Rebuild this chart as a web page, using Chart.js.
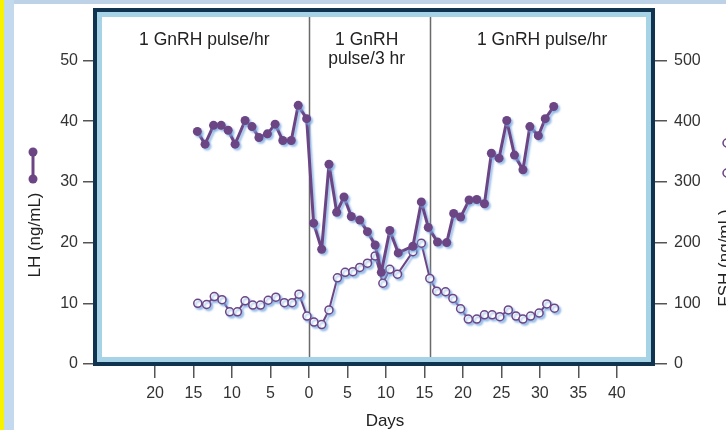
<!DOCTYPE html>
<html lang="en">
  <head>
    <meta charset="UTF-8" />
    <title>LH and FSH with GnRH pulses</title>
    <script src="https://cdn.jsdelivr.net/npm/chart.js"></script>
    <style>
      body { margin: 0; background: #fff; }
      #wrap { position: relative; width: 726px; height: 430px; overflow: hidden; }
      .band { position: absolute; }
      #chart { position: absolute; left: 0; top: 0; }
    </style>
  </head>
  <body>
    <div id="wrap">
      <div class="band" style="left:0;top:0;width:726px;height:4px;background:#bdd2e6"></div>
      <div class="band" style="left:4px;top:0;width:10px;height:430px;background:#c3d9ee"></div>
      <div class="band" style="left:0;top:0;width:4px;height:430px;background:#f6f200"></div>
      <canvas id="chart" width="726" height="430"></canvas>
    </div>
    <script>
      // days relative to the change of pulse frequency
      const lhDays = [-14.5, -13.5, -12.4, -11.4, -10.5, -9.6, -8.3, -7.4, -6.5, -5.4,
        -4.4, -3.4, -2.3, -1.4, -0.3, 0.6, 1.65, 2.6, 3.6, 4.55,
        5.5, 6.6, 7.6, 8.6, 9.4, 10.5, 11.6, 13.5, 14.6, 15.5,
        16.7, 17.9, 18.8, 19.7, 20.8, 21.8, 22.8, 23.7, 24.7, 25.7,
        26.7, 27.8, 28.7, 29.8, 30.7, 31.8];
      const lhValues = [38.3, 36.2, 39.3, 39.3, 38.5, 36.2, 40.1, 39.1, 37.3, 37.9,
        39.5, 36.8, 36.8, 42.6, 40.4, 23.2, 18.9, 32.9, 25.0, 27.5,
        24.3, 23.7, 21.8, 19.6, 15.1, 22.0, 18.3, 19.4, 26.7, 22.5,
        20.1, 20.0, 24.8, 24.2, 27.0, 27.1, 26.4, 34.7, 33.9, 40.1,
        34.4, 32.0, 39.1, 37.6, 40.4, 42.4];

      const fshDays = [-14.45, -13.3, -12.3, -11.3, -10.3, -9.3, -8.3, -7.3, -6.3, -5.3,
        -4.3, -3.2, -2.2, -1.3, -0.26, 0.65, 1.65, 2.6, 3.7, 4.7,
        5.7, 6.6, 7.6, 8.6, 9.6, 10.5, 11.5, 13.5, 14.6, 15.7,
        16.6, 17.75, 18.7, 19.7, 20.7, 21.8, 22.8, 23.8, 24.8, 25.9,
        26.9, 27.8, 28.8, 29.9, 30.9, 31.9];
      const fshValues = [100, 98, 111, 106, 86, 86, 104, 97, 97, 105,
        110, 101, 101, 115, 79, 69, 65, 89, 142, 151,
        152, 159, 166, 178, 133, 156, 148, 185, 199, 141,
        120, 119, 108, 91, 74, 74, 81, 81, 78, 89,
        79, 74, 79, 84, 99, 92];

      const dayTicks = [-20, -15, -10, -5, 0, 5, 10, 15, 20, 25, 30, 35, 40];
      const lhTicks = [0, 10, 20, 30, 40, 50];
      const fshTicks = [0, 100, 200, 300, 400, 500];

      const phaseChanges = [0, 15.7];
      const phaseLabels = [
        { day: -13.6, lines: ["1 GnRH pulse/hr"] },
        { day: 7.5, lines: ["1 GnRH", "pulse/3 hr"] },
        { day: 30.3, lines: ["1 GnRH pulse/hr"] },
      ];

      const purple = "#6c4585";
      const font = "'Liberation Sans', Arial, sans-serif";

      function toPoints(xs, ys) {
        return xs.map((x, i) => ({ x: x, y: ys[i] }));
      }

      function fixSize(prop, size) {
        return function (scale) {
          scale[prop] = size;
          scale.paddingTop = 0;
          scale.paddingBottom = 0;
          scale.paddingLeft = 0;
          scale.paddingRight = 0;
        };
      }

      const shadow = {
        id: "shadow",
        beforeDatasetDraw(chart) {
          const c = chart.ctx;
          c.save();
          c.shadowColor = "rgba(120, 170, 225, 0.7)";
          c.shadowOffsetX = 2;
          c.shadowOffsetY = 2;
          c.shadowBlur = 2;
        },
        afterDatasetDraw(chart) {
          chart.ctx.restore();
        },
      };

      const decor = {
        id: "decor",
        beforeDatasetsDraw(chart) {
          const c = chart.ctx;
          const a = chart.chartArea;
          const xs = chart.scales.x;
          c.save();
          // inner light-blue rim
          c.strokeStyle = "#a6d3e6";
          c.lineWidth = 5;
          c.strokeRect(a.left + 4.5, a.top + 4.5, a.right - a.left - 9, a.bottom - a.top - 9);
          // dark frame
          c.strokeStyle = "#10344f";
          c.lineWidth = 4;
          c.strokeRect(a.left, a.top, a.right - a.left, a.bottom - a.top);

          // phase separators
          c.strokeStyle = "#6a6a6a";
          c.lineWidth = 1.5;
          phaseChanges.forEach((d) => {
            const px = Math.round(xs.getPixelForValue(d)) + 0.5;
            c.beginPath();
            c.moveTo(px, a.top + 7);
            c.lineTo(px, a.bottom - 7);
            c.stroke();
          });

          c.fillStyle = "#222";
          c.font = "17.5px " + font;
          c.textAlign = "center";
          c.textBaseline = "middle";
          phaseLabels.forEach((p) => {
            const px = xs.getPixelForValue(p.day);
            p.lines.forEach((t, i) => c.fillText(t, px, 40 + i * 19));
          });

          // axis titles
          c.font = "17px " + font;
          c.textBaseline = "alphabetic";
          c.save();
          c.translate(40, 235);
          c.rotate(-Math.PI / 2);
          c.fillText("LH (ng/mL)", 0, 0);
          c.restore();
          c.save();
          c.translate(730, 258);
          c.rotate(-Math.PI / 2);
          c.fillText("FSH (ng/mL)", 0, 0);
          c.restore();
          c.fillText("Days", 385, 426);

          // series keys next to the titles
          c.strokeStyle = purple;
          c.lineWidth = 3;
          c.beginPath();
          c.moveTo(33, 152);
          c.lineTo(33, 179);
          c.stroke();
          c.fillStyle = purple;
          [152, 179].forEach((y) => {
            c.beginPath();
            c.arc(33, y, 4.5, 0, Math.PI * 2);
            c.fill();
          });
          c.lineWidth = 2;
          c.beginPath();
          c.moveTo(727, 143);
          c.lineTo(727, 173);
          c.stroke();
          c.fillStyle = "#fff";
          c.lineWidth = 1.5;
          [143, 173].forEach((y) => {
            c.beginPath();
            c.arc(727, y, 4, 0, Math.PI * 2);
            c.fill();
            c.stroke();
          });
          c.restore();
        },
      };

      const tickFont = { family: font, size: 16 };

      new Chart(document.getElementById("chart"), {
        type: "line",
        data: {
          datasets: [
            {
              label: "LH",
              data: toPoints(lhDays, lhValues),
              yAxisID: "y",
              borderColor: purple,
              borderWidth: 3,
              borderJoinStyle: "round",
              pointRadius: 4.5,
              pointBackgroundColor: purple,
              pointBorderColor: purple,
              pointBorderWidth: 0,
              tension: 0,
            },
            {
              label: "FSH",
              data: toPoints(fshDays, fshValues),
              yAxisID: "y2",
              borderColor: purple,
              borderWidth: 2,
              borderJoinStyle: "round",
              pointRadius: 4,
              pointBackgroundColor: "#fff",
              pointBorderColor: purple,
              pointBorderWidth: 1.5,
              tension: 0,
            },
          ],
        },
        plugins: [decor, shadow],
        options: {
          responsive: false,
          animation: false,
          layout: { padding: { top: 10, left: 0, right: 0, bottom: 0 } },
          plugins: { legend: { display: false }, tooltip: { enabled: false } },
          scales: {
            x: {
              type: "linear",
              position: "bottom",
              min: -27.8,
              max: 44.7,
              afterBuildTicks: (s) => { s.ticks = dayTicks.map((v) => ({ value: v })); },
              afterFit: fixSize("height", 66),
              border: { display: false },
              grid: { drawOnChartArea: false, tickLength: 14, color: "#555", lineWidth: 1.5 },
              ticks: { font: tickFont, color: "#333", padding: 6, maxRotation: 0, callback: (v) => Math.abs(v) },
            },
            y: {
              position: "left",
              min: 0,
              max: 58.3,
              afterBuildTicks: (s) => { s.ticks = lhTicks.map((v) => ({ value: v })); },
              afterFit: fixSize("width", 95),
              border: { display: false },
              grid: { drawOnChartArea: false, tickLength: 12, color: "#555", lineWidth: 1.5 },
              ticks: { font: tickFont, color: "#333", padding: 5 },
            },
            y2: {
              position: "right",
              min: 0,
              max: 583,
              afterBuildTicks: (s) => { s.ticks = fshTicks.map((v) => ({ value: v })); },
              afterFit: fixSize("width", 73),
              border: { display: false },
              grid: { drawOnChartArea: false, tickLength: 14, color: "#555", lineWidth: 1.5 },
              ticks: { font: tickFont, color: "#333", padding: 7 },
            },
          },
        },
      });
    </script>
  </body>
</html>
